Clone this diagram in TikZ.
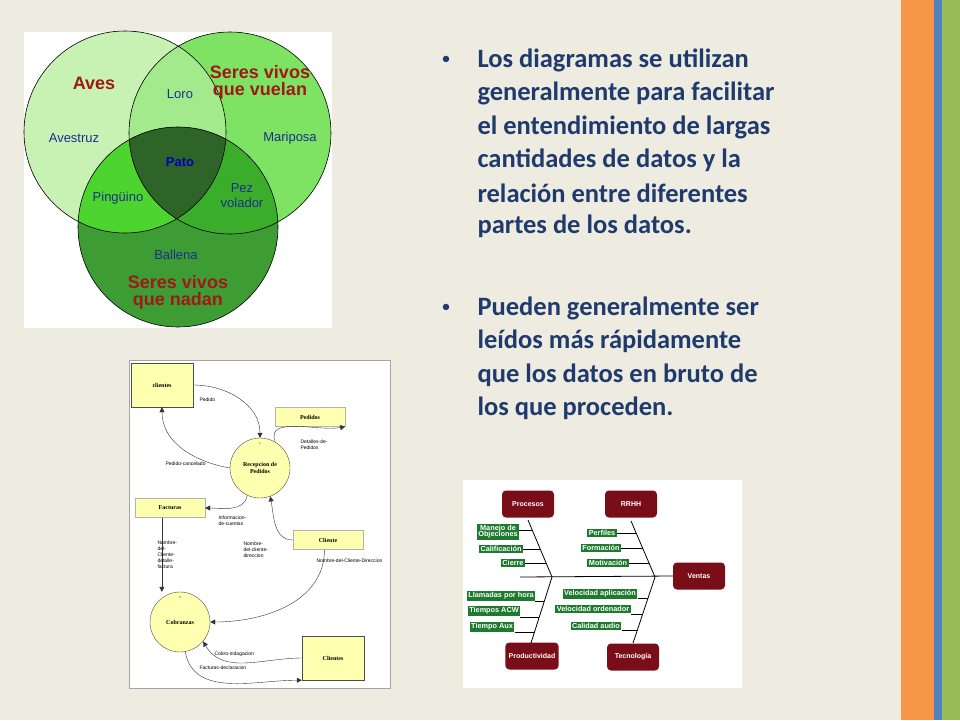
\documentclass[tikz,border=0pt]{standalone}
\usepackage{fontspec}
\setmainfont{Carlito}
\newfontfamily\arialfont{Liberation Sans}
\newfontfamily\timesfont{Liberation Serif}
\usetikzlibrary{positioning,arrows.meta}
\definecolor{slidebg}{HTML}{EEECE1}
\definecolor{stripeorange}{HTML}{F79646}
\definecolor{stripeblue}{HTML}{4F81BD}
\definecolor{stripegreen}{HTML}{9BBB59}
\definecolor{bullettext}{HTML}{1F3B6E}
\definecolor{avesred}{HTML}{A01818}
\definecolor{vennblue}{HTML}{1A2F8A}
\definecolor{dfdyellow}{HTML}{FFFFB0}
\definecolor{bonered}{HTML}{7A0E18}
\definecolor{leafgreen}{HTML}{1E7A2E}
\definecolor{vennA}{HTML}{C8F2B4}
\definecolor{vennB}{HTML}{7EE262}
\definecolor{vennC}{HTML}{3E9C34}
\definecolor{vennAB}{HTML}{A2EA8C}
\definecolor{vennAC}{HTML}{4ED42E}
\definecolor{vennBC}{HTML}{3AAE2A}
\definecolor{vennABC}{HTML}{2E6428}

\begin{document}
\begin{tikzpicture}[x=1pt,y=-1pt]
  \tikzstyle{bullet}=[anchor=west,text=bullettext,font=\fontsize{26.5}{30}\selectfont\bfseries]
  \tikzstyle{vennlbl}=[text=vennblue,font=\arialfont\fontsize{13}{15}\selectfont]
  \tikzstyle{vennset}=[text=avesred,font=\arialfont\fontsize{18}{17}\selectfont\bfseries,align=center]
  \tikzstyle{store}=[fill=dfdyellow,draw=gray!60,minimum width=70,minimum height=19,font=\timesfont\fontsize{6}{7}\selectfont\bfseries]
  \tikzstyle{entity}=[store,draw=black!70,minimum width=62,minimum height=44]
  \tikzstyle{process}=[circle,fill=dfdyellow,draw=black!70,minimum size=60,align=center,font=\timesfont\fontsize{6}{7}\selectfont\bfseries]
  \tikzstyle{flow}=[-{Triangle[length=5pt,width=5pt]},black!80,thin]
  \tikzstyle{flowlbl}=[font=\arialfont\fontsize{5}{6}\selectfont,align=left,anchor=west]
  \tikzstyle{bone}=[rounded corners=4,fill=bonered,text=white,minimum width=52,minimum height=27,font=\arialfont\fontsize{7}{8}\selectfont\bfseries]
  \tikzstyle{leaf}=[fill=leafgreen,text=white,inner sep=1.5,align=center,font=\arialfont\fontsize{7.3}{8}\selectfont\bfseries]

  \useasboundingbox (0,0) rectangle (960,720);
  \fill[slidebg] (0,0) rectangle (960,720);
  \fill[stripeorange] (901,0) rectangle (934,720);
  \fill[stripeblue] (934,0) rectangle (942,720);
  \fill[stripegreen] (942,0) rectangle (960,720);

  % Venn diagram
  \fill[white] (24,32) rectangle (332,328);
  \coordinate (A) at (125,132);
  \coordinate (B) at (230,133);
  \coordinate (C) at (178,227);
  \fill[vennA] (A) circle (101);
  \fill[vennB] (B) circle (101);
  \fill[vennC] (C) circle (100);
  \begin{scope}
    \clip (A) circle (101);
    \fill[vennAB] (B) circle (101);
    \fill[vennAC] (C) circle (100);
    \clip (B) circle (101);
    \fill[vennABC] (C) circle (100);
  \end{scope}
  \begin{scope}
    \clip (B) circle (101);
    \clip (C) circle (100);
    \fill[vennBC] (A) ++(-200,-200) rectangle ++(400,400);
    \clip (A) circle (101);
    \fill[vennABC] (A) ++(-200,-200) rectangle ++(400,400);
  \end{scope}
  \draw[semithick] (A) circle (101) (B) circle (101) (C) circle (100);
  \node[vennset] (aves) at (94,83) {Aves};
  \node[vennset] (vuelan) at (260,82) {Seres vivos\\que vuelan};
  \node[vennset] (nadan) at (178,292) {Seres vivos\\que nadan};
  \node[vennlbl] (loro) at (180,94) {Loro};
  \node[vennlbl] (avestruz) at (74,138) {Avestruz};
  \node[vennlbl] (mariposa) at (290,138) {Mariposa};
  \node[vennlbl,text=blue!70!black,font=\arialfont\fontsize{13}{15}\selectfont\bfseries] (pato) at (180,162) {Pato};
  \node[vennlbl] (pinguino) at (118,198) {Pingüino};
  \node[vennlbl,align=center] (pez) at (242,196) {Pez\\volador};
  \node[vennlbl] (ballena) at (176,255) {Ballena};

  % bullets
  \node[bullet,font=\fontsize{18}{20}\selectfont] (b1) at (438,60) {•};
  \node[bullet] (t1) at (474,60) {Los diagramas se utilizan};
  \node[bullet] (t2) at (474,93) {generalmente para facilitar};
  \node[bullet] (t3) at (474,127) {el entendimiento de largas};
  \node[bullet] (t4) at (474,160) {cantidades de datos y la};
  \node[bullet] (t5) at (474,193) {relación entre diferentes};
  \node[bullet] (t6) at (474,226) {partes de los datos.};
  \node[bullet,font=\fontsize{18}{20}\selectfont] (b2) at (438,308) {•};
  \node[bullet] (u1) at (474,308) {Pueden generalmente ser};
  \node[bullet] (u2) at (474,341) {leídos más rápidamente};
  \node[bullet] (u3) at (474,375) {que los datos en bruto de};
  \node[bullet] (u4) at (474,408) {los que proceden.};

  % data flow diagram
  \draw[fill=white,draw=gray!70] (129,360) rectangle (390,688);
  \node[entity] (clientes) at (162,385) {clientes};
  \node[store] (pedidos) at (310,417) {Pedidos};
  \node[store] (facturas) at (170,508) {Facturas};
  \node[store] (cliente) at (328,540) {Cliente};
  \node[entity] (clientes2) at (333,658) {Clientes};
  \node[process] (recep) at (260,468) {Recepcion de\\Pedidos};
  \node[process] (cobr) at (180,622) {Cobranzas};
  \node[font=\fontsize{3}{3}\selectfont] at (recep.north) [below=1pt] {1};
  \node[font=\fontsize{3}{3}\selectfont] at (cobr.north) [below=1pt] {2};
  \draw[flow] (clientes.east) to[out=0,in=90] (recep.north);
  \draw[flow] (recep.west) to[out=170,in=-90] (clientes.south);
  \draw[flow] (recep.60) to[out=110,in=190] (pedidos.south east);
  \draw[flow] (recep.-115) to[out=-100,in=0] (facturas.east);
  \draw[flow] (cliente.west) to[out=180,in=-80] (recep.-70);
  \draw[flow] (facturas.230) -- (facturas.230 |- cobr.north);
  \draw[flow] (cliente.-110) to[out=-90,in=0] (cobr.east);
  \draw[flow] (clientes2.180) to[out=180,in=-60] (cobr.-40);
  \draw[flow] (cobr.-80) to[out=-80,in=180] (clientes2.south west);
  \node[flowlbl] (lpedido) at (196,400) {Pedido};
  \node[flowlbl] (lcanc) at (162,464) {Pedido-cancelado};
  \node[flowlbl] (ldet) at (297,445) {Detalles-de-\\Pedidos};
  \node[flowlbl] (linfo) at (215,521) {Informacion-\\de-cuentas};
  \node[flowlbl] (lnomb) at (240,550) {Nombre-\\del-cliente-\\direccion};
  \node[flowlbl] (lfact) at (154,555) {Nombre-\\del-\\Cliente-\\detalle-\\factura};
  \node[flowlbl] (ldir) at (313,561) {Nombre-del-Cliente-Direccion};
  \node[flowlbl] (lcobro) at (211,654) {Cobro-indagacion};
  \node[flowlbl] (lfactdec) at (196,668) {Facturas-declaracion};

  % fishbone
  \fill[white] (463,480) rectangle (742,688);
  \node[bone] (procesos) at (528,504) {Procesos};
  \node[bone] (rrhh) at (631,504) {RRHH};
  \node[bone] (ventas) at (699,576) {Ventas};
  \node[bone] (product) at (532,656) {Productividad};
  \node[bone] (tecno) at (633,657) {Tecnología};
  \coordinate (j1) at (552,577);
  \coordinate (j2) at (655,577);
  \coordinate (s0) at (520,577);
  \draw[thick] (s0) -- (ventas.west);
  \draw[thick] (528,520) -- (j1) -- (531,643);
  \draw[thick] (631,521) -- (j2) -- (633,643);
  \node[leaf] (manejo) at (498,532) {Manejo de\\[-2pt]Objeciones};
  \node[leaf] (calif) at (501,549) {Calificación};
  \node[leaf] (cierre) at (513,563) {Cierre};
  \node[leaf] (perfiles) at (602,533) {Perfiles};
  \node[leaf] (formacion) at (601,548) {Formación};
  \node[leaf] (motiv) at (608,563) {Motivación};
  \node[leaf] (llamadas) at (501,596) {Llamadas por hora};
  \node[leaf] (acw) at (494,611) {Tiempos ACW};
  \node[leaf] (aux) at (492,627) {Tiempo Aux};
  \node[leaf] (velapl) at (600,594) {Velocidad aplicación};
  \node[leaf] (velord) at (593,609) {Velocidad  ordenador};
  \node[leaf] (calidad) at (596,626) {Calidad audio};
  \foreach \lf/\ex/\ey in {manejo/533/530,calif/540/549,cierre/546/563,perfiles/636/533,formacion/643/548,motiv/649/563,llamadas/544/601,acw/539/617,aux/534/632,velapl/648/598,velord/643/614,calidad/637/630}
    \draw[semithick] (\lf.east |- 0,\ey) -- (\ex,\ey);
\end{tikzpicture}
\end{document}
